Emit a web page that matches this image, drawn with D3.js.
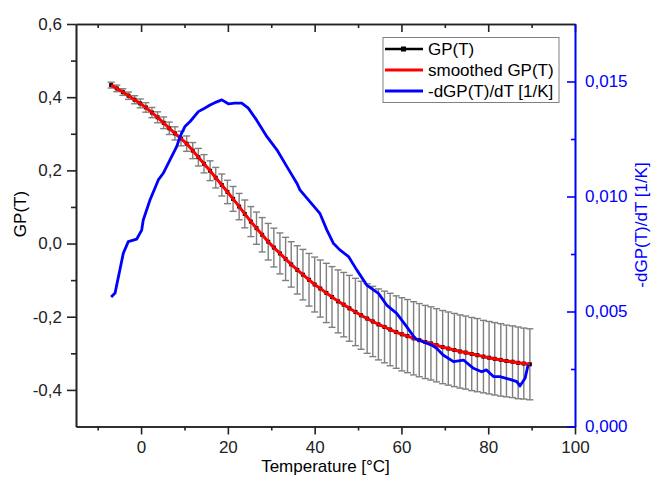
<!DOCTYPE html>
<html>
<head>
<meta charset="utf-8">
<script src="https://cdn.jsdelivr.net/npm/d3@7/dist/d3.min.js"></script>
<style>
  html, body { margin: 0; padding: 0; background: #fff; }
  svg text { font-family: Arial, "Liberation Sans", sans-serif; }
</style>
</head>
<body>
<div id="chart"></div>
<script>
// Temperature grid of the GP(T) measurement [°C]
const temps = [-6.9, -5.6, -4.2, -2.9, -1.5, -0.2, 1.1, 2.5, 3.8, 5.2, 6.5, 7.8, 9.2, 10.5, 11.9, 13.2, 14.5, 15.9, 17.2, 18.6,
  19.9, 21.2, 22.6, 23.9, 25.3, 26.6, 27.9, 29.3, 30.6, 32.0, 33.3, 34.6, 36.0, 37.3, 38.7, 40.0, 41.3, 42.7, 44.0, 45.4,
  46.7, 48.0, 49.4, 50.7, 52.1, 53.4, 54.7, 56.1, 57.4, 58.8, 60.1, 61.4, 62.8, 64.1, 65.5, 66.8, 68.1, 69.5, 70.8, 72.2,
  73.5, 74.8, 76.2, 77.5, 78.9, 80.2, 81.5, 82.9, 84.2, 85.6, 86.9, 88.2, 89.6];

// GP(T) values
const gp = [0.433, 0.424, 0.414, 0.404, 0.393, 0.383, 0.372, 0.358, 0.345, 0.330, 0.315, 0.301, 0.287, 0.273, 0.254, 0.236, 0.218, 0.199, 0.180, 0.160,
  0.141, 0.122, 0.101, 0.081, 0.060, 0.042, 0.024, 0.005, -0.011, -0.027, -0.042, -0.057, -0.072, -0.085, -0.099, -0.112, -0.123, -0.135, -0.146, -0.158,
  -0.167, -0.177, -0.187, -0.196, -0.205, -0.213, -0.221, -0.228, -0.235, -0.242, -0.248, -0.253, -0.259, -0.264, -0.269, -0.273, -0.278, -0.283, -0.287, -0.291,
  -0.295, -0.298, -0.302, -0.305, -0.309, -0.312, -0.315, -0.318, -0.321, -0.323, -0.326, -0.328, -0.330];

// error bar half widths
const gpErr = [0.008, 0.009, 0.009, 0.010, 0.011, 0.012, 0.013, 0.014, 0.015, 0.016, 0.017, 0.018, 0.020, 0.021, 0.022, 0.024, 0.025, 0.027, 0.028, 0.030,
  0.032, 0.034, 0.036, 0.038, 0.041, 0.044, 0.047, 0.050, 0.053, 0.056, 0.059, 0.062, 0.066, 0.069, 0.072, 0.075, 0.078, 0.081, 0.083, 0.086,
  0.088, 0.090, 0.092, 0.093, 0.095, 0.096, 0.097, 0.098, 0.099, 0.099, 0.100, 0.100, 0.100, 0.100, 0.100, 0.100, 0.100, 0.100, 0.100, 0.100,
  0.100, 0.100, 0.100, 0.100, 0.099, 0.099, 0.099, 0.099, 0.098, 0.098, 0.098, 0.097, 0.097];

// smoothed GP(T)
const gpSmooth = gp.slice();

// -dGP(T)/dT [1/K]
const derivT = [-6.9, -6.0, -4.1, -2.95, -1.0, 0.14, 0.5, 2.05, 3.97, 5.1, 6.66, 8.2, 8.97, 10.1, 11.3, 13.2, 14.3, 15.9, 17.0, 18.6,
  20.1, 21.6, 23.2, 24.7, 26.6, 29.0, 31.3, 33.6, 35.9, 36.6, 38.9, 41.2, 42.8, 44.3, 45.8, 47.8, 49.7, 52.0, 54.7, 56.6,
  58.9, 61.2, 63.1, 65.8, 67.0, 68.1, 69.6, 72.0, 74.3, 76.6, 78.5, 79.6, 81.2, 82.7, 85.0, 86.6, 87.3, 88.5, 89.2];
const derivV = [0.00563, 0.00580, 0.00753, 0.00804, 0.00815, 0.00854, 0.00898, 0.00985, 0.01072, 0.01101, 0.01159, 0.01217, 0.01260, 0.01304, 0.01326, 0.01369, 0.01380, 0.01398, 0.01408, 0.01420,
  0.01403, 0.01406, 0.01406, 0.01384, 0.01333, 0.01260, 0.01203, 0.01130, 0.01058, 0.01029, 0.00978, 0.00927, 0.00855, 0.00797, 0.00768, 0.00739, 0.00681, 0.00615, 0.00579, 0.00528,
  0.00492, 0.00434, 0.00384, 0.00362, 0.00354, 0.00340, 0.00311, 0.00282, 0.00289, 0.00253, 0.00238, 0.00246, 0.00217, 0.00217, 0.00205, 0.00195, 0.00176, 0.00210, 0.00268];

const xMajor = [0, 20, 40, 60, 80, 100];
const xMinor = [-10, 10, 30, 50, 70, 90];
const yMajor = [-0.4, -0.2, 0.0, 0.2, 0.4, 0.6];
const yMinor = [-0.3, -0.1, 0.1, 0.3, 0.5];
const y2Major = [0, 0.005, 0.010, 0.015];
const y2Minor = [0.0025, 0.0075, 0.0125];

const legendItems = ['GP(T)', 'smoothed GP(T)', '-dGP(T)/dT [1/K]'];

const width = 651, height = 486;
const plot = { left: 76, right: 575, top: 24, bottom: 426.5 };
const BLUE = '#0000ff';
const AXIS = '#222';

const svg = d3.select('#chart').append('svg')
  .attr('width', width)
  .attr('height', height);

const x = d3.scaleLinear().domain([-15, 100]).range([plot.left, plot.right]);
const y = d3.scaleLinear().domain([-0.5, 0.6]).range([plot.bottom, plot.top]);
const y2 = d3.scaleLinear().domain([0, 0.0175]).range([plot.bottom, plot.top]);

const comma = f => d => d3.format(f)(d).replace('.', ',').replace('−', '-');

// error bars
const points = temps.map((t, i) => ({ t, v: gp[i], e: gpErr[i] }));
const eb = svg.append('g').attr('stroke', '#7f7f7f').attr('stroke-width', 1.4);
points.forEach(p => {
  const xx = x(p.t);
  eb.append('line').attr('x1', xx).attr('x2', xx).attr('y1', y(p.v + p.e)).attr('y2', y(p.v - p.e));
  eb.append('line').attr('x1', xx - 3.5).attr('x2', xx + 3.5).attr('y1', y(p.v + p.e)).attr('y2', y(p.v + p.e));
  eb.append('line').attr('x1', xx - 3.5).attr('x2', xx + 3.5).attr('y1', y(p.v - p.e)).attr('y2', y(p.v - p.e));
});

// GP(T) black line with square markers
const line = d3.line().x(d => x(d.t)).y(d => y(d.v));
svg.append('path').datum(points)
  .attr('fill', 'none').attr('stroke', '#000').attr('stroke-width', 2)
  .attr('d', line);
svg.append('g').selectAll('rect').data(points).join('rect')
  .attr('x', d => x(d.t) - 2).attr('y', d => y(d.v) - 2)
  .attr('width', 4).attr('height', 4).attr('fill', '#000');

// smoothed
const smooth = temps.map((t, i) => ({ t, v: gpSmooth[i] }));
svg.append('path').datum(smooth)
  .attr('fill', 'none').attr('stroke', '#ff0000').attr('stroke-width', 3)
  .attr('d', line);

// derivative (right axis)
const deriv = derivT.map((t, i) => ({ t, v: derivV[i] }));
svg.append('path').datum(deriv)
  .attr('fill', 'none').attr('stroke', BLUE).attr('stroke-width', 2.8)
  .attr('stroke-linejoin', 'round')
  .attr('d', d3.line().x(d => x(d.t)).y(d => y2(d.v)));

// axes
function styleAxis(g, color) {
  g.select('.domain').attr('stroke', color).attr('stroke-width', 1.6);
  g.selectAll('.tick line').attr('stroke', color).attr('stroke-width', 1.6);
  g.selectAll('.tick text').attr('fill', color).attr('font-size', '17px');
}

svg.append('g').attr('transform', `translate(0,${plot.bottom})`)
  .call(d3.axisBottom(x).tickValues(xMinor).tickSize(4).tickFormat('').tickSizeOuter(0))
  .call(g => styleAxis(g, AXIS));
svg.append('g').attr('transform', `translate(0,${plot.bottom})`)
  .call(d3.axisBottom(x).tickValues(xMajor).tickSize(8).tickPadding(6).tickFormat(d3.format('d')).tickSizeOuter(0))
  .call(g => styleAxis(g, AXIS));

svg.append('g').attr('transform', `translate(0,${plot.top})`)
  .call(d3.axisTop(x).tickValues(xMinor).tickSize(-4).tickFormat('').tickSizeOuter(0))
  .call(g => styleAxis(g, AXIS));
svg.append('g').attr('transform', `translate(0,${plot.top})`)
  .call(d3.axisTop(x).tickValues(xMajor).tickSize(-8).tickFormat('').tickSizeOuter(0))
  .call(g => styleAxis(g, AXIS));

svg.append('g').attr('transform', `translate(${plot.left},0)`)
  .call(d3.axisLeft(y).tickValues(yMinor).tickSize(5).tickFormat('').tickSizeOuter(0))
  .call(g => styleAxis(g, AXIS));
svg.append('g').attr('transform', `translate(${plot.left},0)`)
  .call(d3.axisLeft(y).tickValues(yMajor).tickSize(9).tickPadding(5).tickFormat(comma('.1f')).tickSizeOuter(0))
  .call(g => styleAxis(g, AXIS));

svg.append('g').attr('transform', `translate(${plot.right},0)`)
  .call(d3.axisRight(y2).tickValues(y2Minor).tickSize(-4).tickFormat('').tickSizeOuter(0))
  .call(g => styleAxis(g, BLUE));
svg.append('g').attr('transform', `translate(${plot.right},0)`)
  .call(d3.axisRight(y2).tickValues(y2Major).tickSize(-8).tickPadding(10).tickFormat(comma('.3f')).tickSizeOuter(0))
  .call(g => styleAxis(g, BLUE));

// axis titles
svg.append('text')
  .attr('x', (plot.left + plot.right) / 2).attr('y', 472)
  .attr('text-anchor', 'middle').attr('font-size', '17px').attr('fill', '#000')
  .text('Temperature [°C]');
svg.append('text')
  .attr('transform', 'translate(26,214) rotate(-90)')
  .attr('text-anchor', 'middle').attr('font-size', '17px').attr('fill', '#000')
  .text('GP(T)');
svg.append('text')
  .attr('transform', 'translate(647,225) rotate(-90)')
  .attr('text-anchor', 'middle').attr('font-size', '17px').attr('fill', BLUE)
  .text('-dGP(T)/dT [1/K]');

// legend
const lg = svg.append('g');
lg.append('rect')
  .attr('x', 383).attr('y', 37.5).attr('width', 176).attr('height', 65)
  .attr('fill', '#fff').attr('stroke', '#808080').attr('stroke-width', 1);
const legendColors = ['#000', '#ff0000', BLUE];
legendItems.forEach((label, i) => {
  const cy = 49 + i * 21;
  lg.append('line')
    .attr('x1', 385).attr('x2', 423).attr('y1', cy).attr('y2', cy)
    .attr('stroke', legendColors[i]).attr('stroke-width', i === 0 ? 2.5 : 3);
  if (i === 0) {
    lg.append('rect').attr('x', 401).attr('y', cy - 2.5).attr('width', 5).attr('height', 5).attr('fill', '#000');
  }
  lg.append('text')
    .attr('x', 428).attr('y', cy + 6)
    .attr('font-size', '17px').attr('fill', '#000')
    .text(label);
});
</script>
</body>
</html>
